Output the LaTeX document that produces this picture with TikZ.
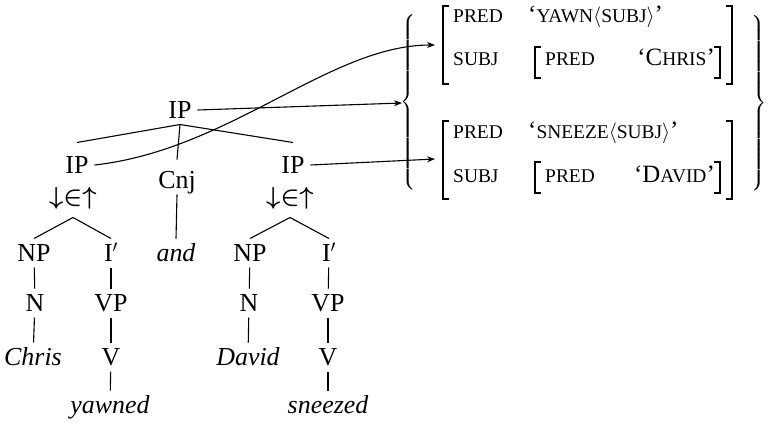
\documentclass[tikz,border=0pt]{standalone}
\usepackage{fontspec}
\setmainfont{Liberation Serif}[Ligatures=TeX]
\usepackage{exscale}
\usetikzlibrary{arrows.meta}
\newcommand\smc[1]{{\fontsize{19.5}{21}\selectfont #1}}
\newcommand\ang[1]{{\fontsize{22}{22}\selectfont$\langle$}#1{\fontsize{22}{22}\selectfont$\rangle$}}
\begin{document}
\begin{tikzpicture}[x=1bp,y=-1bp,
  tn/.style={inner sep=0pt,outer sep=6bp,text height=17bp,text depth=0pt,font=\rmfamily\fontsize{26}{28}\selectfont},
  br/.style={line width=1.1bp},
  arr/.style={line width=1.1bp,-{Stealth[length=8bp,width=6bp]}},
  bk/.style={line width=1.7bp},
  ft/.style={inner sep=0pt,anchor=base west,font=\rmfamily\fontsize{25}{27}\selectfont},
  delim/.style={inner sep=0pt,font=\fontsize{19}{19}\selectfont}]
\useasboundingbox (0,0) rectangle (768,423);
% tree nodes
\node[tn] (ip0) at (180,110) {IP};
\node[tn] (ipl) at (77,165) {IP};
\node[tn] (ipr) at (293,165) {IP};
\node[tn] (cnj) at (177,180) {Cnj};
\node[tn,font=\fontsize{24}{26}\selectfont\boldmath] (al) at (73,196) {$\downarrow\in\uparrow$};
\node[tn,font=\fontsize{24}{26}\selectfont\boldmath] (ar) at (290,196) {$\downarrow\in\uparrow$};
\node[tn] (npl) at (34,253) {NP};
\node[tn] (il) at (111,253) {I$'$};
\node[tn] (and) at (176,253) {\itshape and};
\node[tn] (npr) at (250,253) {NP};
\node[tn] (ir) at (329,253) {I$'$};
\node[tn] (nl) at (35,303) {N};
\node[tn] (vpl) at (111,303) {VP};
\node[tn] (nr) at (249,303) {N};
\node[tn] (vpr) at (328,303) {VP};
\node[tn] (chris) at (33,357) {\itshape Chris};
\node[tn] (vl) at (111,357) {V};
\node[tn] (david) at (248,357) {\itshape David};
\node[tn] (vr) at (328,357) {V};
\node[tn] (yawned) at (110,405) {\itshape yawned};
\node[tn] (sneezed) at (328,405) {\itshape sneezed};
% tree branches
\draw[br] (ip0.south) -- ([yshift=8bp]ipl.north);
\draw[br] (ip0.south) -- ([yshift=8bp]ipr.north);
\draw[br] (ip0.south) -- ([yshift=6bp]cnj.north);
\draw[br] ([yshift=-7bp]al.south) -- (npl.north);
\draw[br] ([yshift=-7bp]al.south) -- (il.north);
\draw[br] ([yshift=-7bp]ar.south) -- (npr.north);
\draw[br] ([yshift=-7bp]ar.south) -- (ir.north);
\draw[br] (cnj.south) -- (and.north);
\draw[br] (npl) -- (nl);
\draw[br] (nl) -- (chris);
\draw[br] (il) -- (vpl);
\draw[br] (vpl) -- (vl);
\draw[br] (vl) -- (yawned);
\draw[br] (npr) -- (nr);
\draw[br] (nr) -- (david);
\draw[br] (ir) -- (vpr);
\draw[br] (vpr) -- (vr);
\draw[br] (vr) -- (sneezed);
% braces
\node[delim] (lb) at (409,102) {$\left\{\vcenter{\hbox{\rule{0pt}{176bp}}}\right.$};
\node[delim] (rb) at (759,103) {$\left.\vcenter{\hbox{\rule{0pt}{176bp}}}\right\}$};
% brackets
\draw[bk] (449,6) -- (443,6) -- (443,84) -- (449,84);
\draw[bk] (726,6) -- (732,6) -- (732,84) -- (726,84);
\draw[bk] (541,47) -- (535,47) -- (535,78) -- (541,78);
\draw[bk] (714,47) -- (720,47) -- (720,78) -- (714,78);
\draw[bk] (449,121) -- (443,121) -- (443,199) -- (449,199);
\draw[bk] (726,121) -- (732,121) -- (732,199) -- (726,199);
\draw[bk] (541,162) -- (535,162) -- (535,193) -- (541,193);
\draw[bk] (714,162) -- (720,162) -- (720,193) -- (714,193);
% f-structure texts
\node[ft] (p1) at (453,22) {\smc{PRED}};
\node[ft] (v1) at (528,22) {`\smc{YAWN}\ang{\smc{SUBJ}}'};
\node[ft] (s1) at (453,65) {\smc{SUBJ}};
\node[ft] (q1) at (545,65) {\smc{PRED}};
\node[ft,anchor=base east] (c1) at (715,65) {`C\smc{HRIS}'};
\node[ft] (p2) at (453,138) {\smc{PRED}};
\node[ft] (v2) at (528,138) {`\smc{SNEEZE}\ang{\smc{SUBJ}}'};
\node[ft] (s2) at (453,182) {\smc{SUBJ}};
\node[ft] (q2) at (545,182) {\smc{PRED}};
\node[ft,anchor=base east] (c2) at (715,182) {`D\smc{AVID}'};
% arrows
\coordinate (t0) at (402,103);
\coordinate (t1) at (435,45);
\coordinate (t2) at (435,159);
\draw[arr] (ip0.east) -- (t0);
\draw[arr] (ipl.east) .. controls (230,150) and (330,45) .. (t1);
\draw[arr] (ipr.east) -- (t2);
\end{tikzpicture}
\end{document}
